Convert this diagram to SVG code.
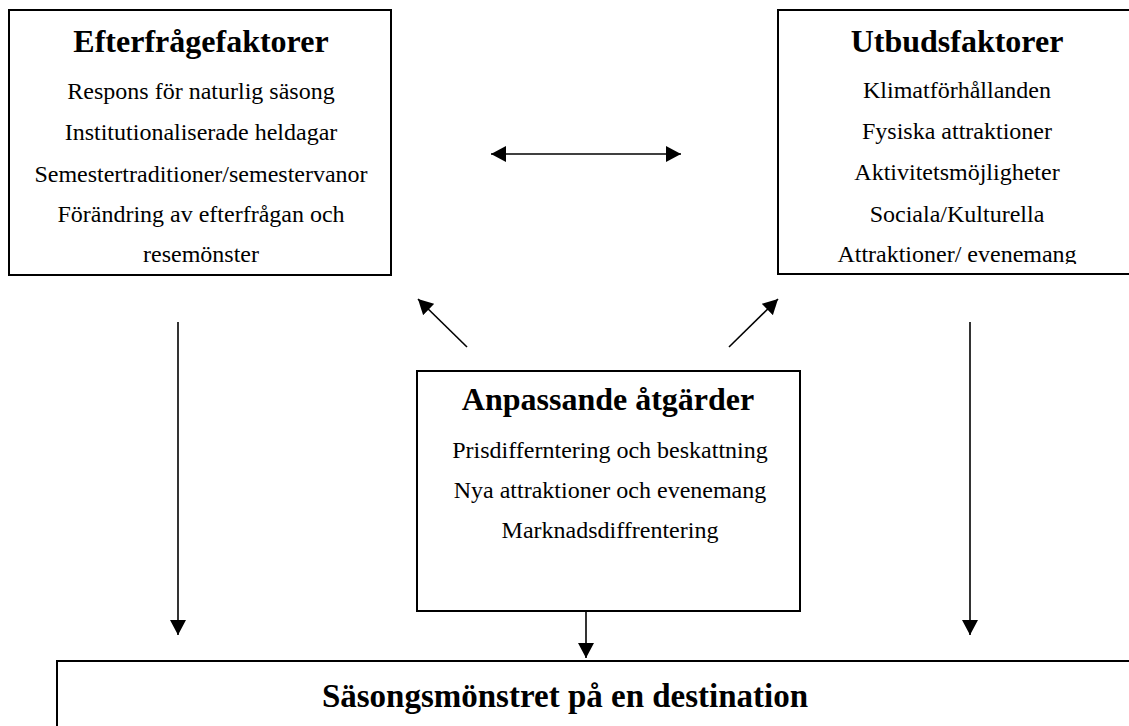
<svg xmlns="http://www.w3.org/2000/svg" width="1129" height="726" viewBox="0 0 1129 726">
<style>
.box{fill:#fff;stroke:#000;stroke-width:2}
.t{font-family:"Liberation Serif","Times New Roman",serif;font-weight:bold;font-size:32px;text-anchor:middle;fill:#000}
.b{font-family:"Liberation Serif","Times New Roman",serif;font-size:24px;text-anchor:middle;fill:#000}
.c{stroke:#000;stroke-width:1.6;fill:none}
</style>
<defs>
<marker id="ah" markerUnits="userSpaceOnUse" markerWidth="16" markerHeight="16" refX="15" refY="8" orient="auto-start-reverse">
<path d="M0,0 L15,8 L0,16 z" fill="#000"/>
</marker>
<clipPath id="rclip"><rect x="777" y="10" width="400" height="254"/></clipPath>
</defs>
<rect width="1129" height="726" fill="#fff"/>
<g id="efterfragefaktorer">
<rect class="box" x="9" y="10" width="382" height="265"/>
<text class="t" x="201" y="52">Efterfrågefaktorer</text>
<text class="b" x="201" y="99">Respons för naturlig säsong</text>
<text class="b" x="201" y="140">Institutionaliserade heldagar</text>
<text class="b" x="201" y="182">Semestertraditioner/semestervanor</text>
<text class="b" x="201" y="222">Förändring av efterfrågan och</text>
<text class="b" x="201" y="262">resemönster</text>
</g>
<g id="utbudsfaktorer">
<rect class="box" x="778" y="10" width="380" height="264"/>
<text class="t" x="957" y="52">Utbudsfaktorer</text>
<text class="b" x="957" y="98">Klimatförhållanden</text>
<text class="b" x="957" y="139">Fysiska attraktioner</text>
<text class="b" x="957" y="180">Aktivitetsmöjligheter</text>
<text class="b" x="957" y="222">Sociala/Kulturella</text>
<text class="b" x="957" y="262" clip-path="url(#rclip)">Attraktioner/ evenemang</text>
</g>
<g id="anpassande">
<rect class="box" x="417" y="371" width="383" height="240"/>
<text class="t" x="608" y="410">Anpassande åtgärder</text>
<text class="b" x="610" y="458">Prisdifferntering och beskattning</text>
<text class="b" x="610" y="498">Nya attraktioner och evenemang</text>
<text class="b" x="610" y="538">Marknadsdiffrentering</text>
</g>
<g id="sasongsmonstret">
<rect class="box" x="57" y="661" width="1100" height="100"/>
<text class="t" x="565" y="707" style="font-size:33px">Säsongsmönstret på en destination</text>
</g>
<g id="connectors">
<line class="c" x1="491" y1="154" x2="681" y2="154" marker-start="url(#ah)" marker-end="url(#ah)"/>
<line class="c" x1="467" y1="347" x2="418" y2="299" marker-end="url(#ah)"/>
<line class="c" x1="729" y1="347" x2="778" y2="299" marker-end="url(#ah)"/>
<line class="c" x1="178" y1="322" x2="178" y2="635" marker-end="url(#ah)"/>
<line class="c" x1="970" y1="322" x2="970" y2="635" marker-end="url(#ah)"/>
<line class="c" x1="586" y1="611" x2="586" y2="658" marker-end="url(#ah)"/>
</g>
</svg>
